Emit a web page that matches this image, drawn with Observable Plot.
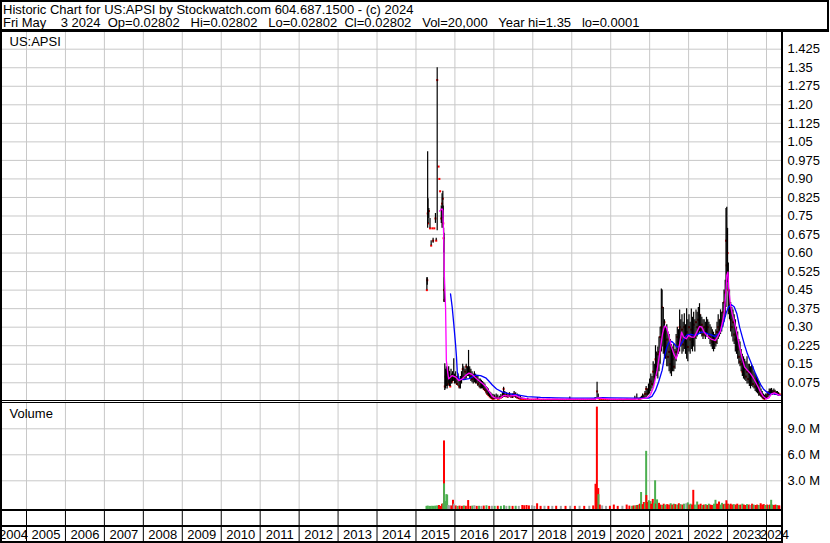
<!DOCTYPE html>
<html>
<head>
<meta charset="utf-8">
<script src="https://cdn.jsdelivr.net/npm/d3@7"></script>
<script src="https://cdn.jsdelivr.net/npm/@observablehq/plot@0.6"></script>
<style>
  html, body { margin: 0; padding: 0; background: #fff; }
  #chart { position: relative; width: 830px; height: 543px; overflow: hidden;
           font-family: "Liberation Sans", Arial, sans-serif; font-size: 13px; color: #000; }
  .abs { position: absolute; }
  .line { position: absolute; background: #000; }
  #title { position: absolute; left: 3px; top: 3px; white-space: pre; line-height: 13px; font-size: 13px; }
</style>
</head>
<body>
<div id="chart">
  <div id="title"></div>
  <div id="price" class="abs" style="left:0;top:32px;"></div>
  <div id="volume" class="abs" style="left:0;top:401px;"></div>
  <div id="years" class="abs" style="left:0;top:510px;"></div>
</div>
<script>
// ---------------- text ----------------
const titleLines = [
  "Historic Chart for US:APSI by Stockwatch.com 604.687.1500 - (c) 2024",
  "Fri May    3 2024  Op=0.02802   Hi=0.02802   Lo=0.02802  Cl=0.02802   Vol=20,000   Year hi=1.35   lo=0.0001"
];
const symbolLabel = "US:APSI";
const volumeLabel = "Volume";

// ---------------- tick labels ----------------
const years = [2004, 2005, 2006, 2007, 2008, 2009, 2010, 2011, 2012, 2013, 2014,
               2015, 2016, 2017, 2018, 2019, 2020, 2021, 2022, 2023, 2024];
const priceTicks = [0.075, 0.15, 0.225, 0.30, 0.375, 0.45, 0.525, 0.60, 0.675, 0.75,
                    0.825, 0.90, 0.975, 1.05, 1.125, 1.20, 1.275, 1.35, 1.425];
const priceTickLabels = ["0.075", "0.15", "0.225", "0.30", "0.375", "0.45", "0.525", "0.60", "0.675", "0.75",
                         "0.825", "0.90", "0.975", "1.05", "1.125", "1.20", "1.275", "1.35", "1.425"];
const volumeTicks = [3, 6, 9];
const volumeTickLabels = ["3.0 M", "6.0 M", "9.0 M"];

// ---------------- price bars: [year, high, low, close] ----------------
const priceBars2015 = [
  [2015.28,0.50,0.45,0.45],[2015.29,0.50,0.47,0.49],[2015.30,1.01,0.70,0.76],[2015.31,0.82,0.72,0.72],
  [2015.33,0.78,0.74,0.77],[2015.36,0.74,0.70,0.70],[2015.39,0.65,0.63,0.63],[2015.42,0.70,0.70,0.70],
  [2015.44,0.66,0.64,0.65],[2015.47,0.70,0.70,0.70],[2015.50,0.76,0.72,0.74],[2015.52,0.66,0.65,0.65],
  [2015.545,1.35,0.69,1.30],[2015.58,0.95,0.95,0.95],[2015.60,0.90,0.90,0.90],[2015.62,0.85,0.85,0.85],
  [2015.65,0.79,0.72,0.74],[2015.67,0.84,0.70,0.80],[2015.69,0.85,0.74,0.82],[2015.70,0.79,0.70,0.72],
  [2015.71,0.70,0.60,0.66],[2015.72,0.68,0.40,0.45],[2015.73,0.50,0.40,0.41]
];
const priceBars2016 = [
  [2015.74,0.152,0.044,0.06],[2015.76,0.13,0.05,0.10],[2015.78,0.14,0.06,0.08],[2015.80,0.125,0.05,0.11],
  [2015.82,0.11,0.06,0.07],[2015.84,0.14,0.07,0.12],[2015.86,0.12,0.06,0.09],[2015.88,0.10,0.06,0.06],
  [2015.90,0.13,0.07,0.10],[2015.92,0.11,0.07,0.08],[2015.94,0.12,0.08,0.09],[2015.97,0.172,0.08,0.10],
  [2015.99,0.11,0.07,0.09],[2016.02,0.12,0.07,0.08],[2016.05,0.10,0.065,0.07],[2016.08,0.11,0.06,0.10],
  [2016.11,0.09,0.05,0.06],[2016.14,0.10,0.05,0.08],[2016.17,0.12,0.07,0.09],[2016.20,0.15,0.085,0.13],
  [2016.23,0.14,0.09,0.10],[2016.26,0.13,0.085,0.12],[2016.29,0.15,0.09,0.14],[2016.32,0.14,0.10,0.11],
  [2016.35,0.206,0.10,0.13],[2016.38,0.14,0.09,0.12],[2016.41,0.13,0.08,0.10],[2016.44,0.12,0.075,0.09],
  [2016.47,0.11,0.07,0.10],[2016.50,0.12,0.075,0.09],[2016.53,0.11,0.07,0.08],[2016.56,0.10,0.07,0.09],
  [2016.59,0.10,0.06,0.07],[2016.62,0.09,0.055,0.08],[2016.65,0.09,0.05,0.06],[2016.68,0.085,0.05,0.07],
  [2016.71,0.08,0.05,0.06],[2016.74,0.075,0.045,0.05],[2016.77,0.07,0.04,0.045],[2016.80,0.06,0.03,0.04],
  [2016.83,0.055,0.025,0.03],[2016.86,0.05,0.02,0.025],[2016.89,0.04,0.015,0.02],[2016.92,0.035,0.012,0.015],
  [2016.95,0.03,0.008,0.012],[2016.98,0.028,0.006,0.01],[2017.02,0.025,0.006,0.012],[2017.06,0.03,0.008,0.015],
  [2017.10,0.025,0.008,0.01],[2017.14,0.02,0.006,0.012],[2017.18,0.028,0.01,0.015],[2017.22,0.035,0.012,0.02],
  [2017.25,0.057,0.015,0.05],[2017.28,0.04,0.015,0.025],[2017.32,0.035,0.015,0.02],[2017.36,0.03,0.012,0.02],
  [2017.40,0.035,0.015,0.025],[2017.44,0.03,0.012,0.02],[2017.48,0.03,0.012,0.018],[2017.52,0.04,0.015,0.03],
  [2017.56,0.035,0.012,0.02],[2017.60,0.03,0.01,0.015],[2017.64,0.025,0.008,0.012],[2017.68,0.02,0.006,0.01]
];
const priceBarsFlat = [
  [2017.72,0.014,0.008,0.008],[2017.77,0.012,0.007,0.007],[2017.82,0.006,0.006,0.006],[2017.87,0.012,0.007,0.007],
  [2017.92,0.006,0.006,0.006],[2017.97,0.006,0.006,0.006],[2018.02,0.006,0.006,0.006],[2018.07,0.007,0.007,0.007],
  [2018.12,0.015,0.008,0.008],[2018.17,0.006,0.006,0.006],[2018.22,0.005,0.005,0.005],[2018.27,0.006,0.006,0.006],
  [2018.32,0.005,0.005,0.005],[2018.37,0.006,0.006,0.006],[2018.42,0.006,0.006,0.006],[2018.47,0.005,0.005,0.005],
  [2018.52,0.006,0.006,0.006],[2018.57,0.006,0.006,0.006],[2018.62,0.006,0.006,0.006],[2018.67,0.005,0.005,0.005],
  [2018.72,0.006,0.006,0.006],[2018.77,0.006,0.006,0.006],[2018.82,0.005,0.005,0.005],[2018.87,0.006,0.006,0.006],
  [2018.92,0.006,0.006,0.006],[2018.95,0.017,0.007,0.007],[2019.00,0.006,0.006,0.006],[2019.05,0.005,0.005,0.005],
  [2019.10,0.006,0.006,0.006],[2019.15,0.006,0.006,0.006],[2019.20,0.005,0.005,0.005],[2019.25,0.006,0.006,0.006],
  [2019.30,0.006,0.006,0.006],[2019.35,0.005,0.005,0.005],[2019.40,0.006,0.006,0.006],[2019.45,0.006,0.006,0.006],
  [2019.50,0.006,0.006,0.006],[2019.55,0.007,0.007,0.007],[2019.60,0.015,0.008,0.008],[2019.65,0.077,0.008,0.040],
  [2019.68,0.030,0.010,0.012],[2019.72,0.015,0.008,0.008],[2019.77,0.007,0.007,0.007],[2019.82,0.006,0.006,0.006],
  [2019.87,0.006,0.006,0.006],[2019.92,0.005,0.005,0.005],[2019.97,0.006,0.006,0.006],[2020.02,0.006,0.006,0.006],
  [2020.07,0.006,0.006,0.006],[2020.12,0.006,0.006,0.006],[2020.17,0.005,0.005,0.005],[2020.22,0.006,0.006,0.006],
  [2020.27,0.006,0.006,0.006],[2020.32,0.005,0.005,0.005],[2020.37,0.006,0.006,0.006],[2020.42,0.007,0.007,0.007],
  [2020.47,0.006,0.006,0.006],[2020.52,0.006,0.006,0.006],[2020.57,0.006,0.006,0.006],[2020.62,0.020,0.010,0.010],
  [2020.67,0.030,0.012,0.012]
];
const priceBars2021 = [
  [2020.72,0.012,0.006,0.006],[2020.76,0.015,0.008,0.01],[2020.79,0.02,0.008,0.015],[2020.82,0.03,0.01,0.02],
  [2020.85,0.025,0.01,0.015],[2020.88,0.04,0.012,0.03],[2020.91,0.06,0.015,0.05],[2020.94,0.05,0.02,0.03],
  [2020.97,0.07,0.025,0.05],[2021.00,0.09,0.03,0.06],[2021.03,0.11,0.04,0.08],[2021.06,0.10,0.05,0.07],
  [2021.09,0.16,0.06,0.12],[2021.12,0.15,0.07,0.10],[2021.15,0.225,0.09,0.17],[2021.18,0.20,0.10,0.14],
  [2021.21,0.22,0.09,0.19],[2021.24,0.26,0.12,0.20],[2021.27,0.30,0.15,0.26],[2021.30,0.455,0.20,0.30],
  [2021.32,0.45,0.22,0.38],[2021.35,0.38,0.19,0.28],[2021.38,0.33,0.18,0.32],[2021.41,0.30,0.17,0.22],
  [2021.44,0.31,0.14,0.25],[2021.47,0.28,0.14,0.18],[2021.50,0.27,0.12,0.20],[2021.53,0.25,0.11,0.15],
  [2021.56,0.23,0.10,0.13],[2021.59,0.22,0.12,0.17],[2021.62,0.23,0.12,0.14],[2021.65,0.21,0.13,0.18],
  [2021.68,0.27,0.16,0.20],[2021.71,0.30,0.18,0.26],[2021.74,0.29,0.19,0.24],[2021.77,0.37,0.20,0.30],
  [2021.80,0.33,0.22,0.25],[2021.83,0.35,0.19,0.29],[2021.86,0.32,0.20,0.23],[2021.89,0.354,0.21,0.30],
  [2021.92,0.31,0.19,0.24],[2021.95,0.375,0.17,0.28],[2021.98,0.33,0.16,0.22],[2022.01,0.35,0.20,0.30],
  [2022.04,0.32,0.19,0.25],[2022.07,0.374,0.21,0.29],[2022.10,0.34,0.20,0.24],[2022.13,0.36,0.22,0.31],
  [2022.16,0.33,0.20,0.26],[2022.19,0.37,0.25,0.32],[2022.22,0.36,0.26,0.30],[2022.25,0.38,0.27,0.33],
  [2022.28,0.395,0.28,0.35],[2022.31,0.35,0.27,0.29],[2022.34,0.34,0.26,0.31],[2022.37,0.33,0.25,0.27],
  [2022.40,0.33,0.26,0.30],[2022.43,0.32,0.25,0.28],[2022.46,0.34,0.26,0.29],[2022.49,0.33,0.27,0.30],
  [2022.52,0.32,0.25,0.27],[2022.55,0.31,0.23,0.26],[2022.58,0.30,0.22,0.25],[2022.61,0.29,0.21,0.24],
  [2022.64,0.28,0.20,0.23],[2022.67,0.27,0.21,0.25],[2022.70,0.29,0.22,0.24],[2022.73,0.32,0.23,0.28],
  [2022.76,0.35,0.25,0.30],[2022.79,0.33,0.26,0.29],[2022.82,0.37,0.27,0.33],[2022.85,0.36,0.28,0.31],
  [2022.88,0.40,0.30,0.36],[2022.91,0.45,0.32,0.40],[2022.94,0.49,0.34,0.44],[2022.96,0.78,0.38,0.65],
  [2022.98,0.785,0.45,0.55],[2023.00,0.70,0.48,0.60],[2023.02,0.56,0.35,0.45],[2023.05,0.45,0.33,0.38],
  [2023.08,0.40,0.28,0.33],[2023.11,0.38,0.26,0.30],[2023.14,0.37,0.24,0.32],[2023.17,0.35,0.23,0.27],
  [2023.20,0.33,0.20,0.25],[2023.23,0.30,0.19,0.22],[2023.26,0.28,0.17,0.21],[2023.29,0.25,0.15,0.18],
  [2023.32,0.24,0.14,0.16],[2023.35,0.21,0.12,0.15],[2023.38,0.19,0.10,0.12],[2023.41,0.18,0.09,0.11],
  [2023.44,0.17,0.085,0.13],[2023.47,0.16,0.08,0.10],[2023.50,0.18,0.07,0.12],[2023.53,0.15,0.07,0.09],
  [2023.56,0.15,0.06,0.11],[2023.59,0.14,0.05,0.08],[2023.62,0.145,0.06,0.10],[2023.65,0.14,0.055,0.07],
  [2023.68,0.12,0.05,0.09],[2023.71,0.11,0.04,0.06],[2023.74,0.10,0.035,0.07],[2023.77,0.09,0.03,0.05],
  [2023.80,0.08,0.02,0.04],[2023.83,0.07,0.02,0.03],[2023.86,0.05,0.015,0.025],[2023.89,0.04,0.01,0.02],
  [2023.92,0.03,0.008,0.012],[2023.95,0.025,0.006,0.01],[2023.98,0.03,0.008,0.015],[2024.01,0.03,0.01,0.02],
  [2024.04,0.04,0.015,0.03],[2024.07,0.05,0.02,0.035],[2024.10,0.05,0.025,0.04],[2024.13,0.052,0.025,0.03],
  [2024.16,0.045,0.025,0.035],[2024.19,0.05,0.03,0.04],[2024.22,0.045,0.025,0.03],[2024.25,0.04,0.025,0.035],
  [2024.28,0.04,0.022,0.03],[2024.31,0.035,0.02,0.028],[2024.34,0.028,0.028,0.028]
];

// ---------------- moving averages: [year, value] ----------------
const magentaAvg2015 = [
  [2015.61,0.770],[2015.67,0.779],[2015.69,0.772],[2015.71,0.678],[2015.73,0.503],[2015.76,0.381],
  [2015.78,0.165],[2015.82,0.111],[2015.84,0.091],[2015.93,0.104],[2016.02,0.098],[2016.10,0.084],
  [2016.19,0.091],[2016.27,0.104],[2016.36,0.114],[2016.44,0.109],[2016.53,0.095],[2016.61,0.084],
  [2016.70,0.073],[2016.79,0.060],[2016.87,0.041],[2016.96,0.020],[2017.04,0.013],[2017.17,0.013],
  [2017.26,0.024],[2017.38,0.021],[2017.56,0.024],[2017.68,0.014],[2017.86,0.010],[2018.50,0.009],
  [2019.00,0.009],[2019.60,0.009],[2019.68,0.014],[2019.78,0.012],[2020.00,0.009],[2020.60,0.009]
];
const magentaAvg2021 = [
  [2020.76,0.010],[2020.93,0.014],[2021.02,0.026],[2021.10,0.057],[2021.19,0.125],[2021.27,0.206],
  [2021.33,0.273],[2021.38,0.304],[2021.43,0.300],[2021.49,0.267],[2021.55,0.226],[2021.62,0.192],
  [2021.68,0.172],[2021.72,0.192],[2021.77,0.233],[2021.82,0.280],[2021.87,0.260],[2021.94,0.253],
  [2022.00,0.267],[2022.07,0.260],[2022.15,0.260],[2022.21,0.280],[2022.28,0.303],[2022.34,0.300],
  [2022.40,0.280],[2022.49,0.262],[2022.57,0.253],[2022.68,0.246],[2022.74,0.260],[2022.81,0.280],
  [2022.88,0.327],[2022.92,0.367],[2022.96,0.448],[2022.98,0.509],[2023.01,0.523],[2023.03,0.462],
  [2023.07,0.394],[2023.12,0.354],[2023.18,0.320],[2023.24,0.273],[2023.31,0.219],[2023.38,0.172],
  [2023.44,0.138],[2023.51,0.125],[2023.58,0.114],[2023.65,0.098],[2023.72,0.078],[2023.79,0.057],
  [2023.85,0.037],[2023.92,0.019],[2023.99,0.010],[2024.06,0.014],[2024.13,0.030],[2024.20,0.034],
  [2024.26,0.030],[2024.33,0.024]
];
const blueAvg2015 = [
  [2015.887,0.435],[2015.93,0.381],[2015.97,0.314],[2016.015,0.233],[2016.04,0.180],[2016.06,0.120],
  [2016.10,0.090],[2016.23,0.088],[2016.36,0.092],[2016.44,0.098],[2016.53,0.106],[2016.66,0.104],
  [2016.79,0.095],[2016.87,0.082],[2016.96,0.066],[2017.07,0.050],[2017.21,0.038],[2017.38,0.031],
  [2017.60,0.026],[2017.86,0.019],[2018.20,0.016],[2018.60,0.014],[2019.00,0.013],[2019.60,0.013],
  [2019.75,0.015],[2020.00,0.014],[2020.60,0.013]
];
const blueAvg2021 = [
  [2020.76,0.013],[2020.97,0.013],[2021.06,0.020],[2021.15,0.044],[2021.23,0.078],[2021.32,0.125],
  [2021.38,0.179],[2021.44,0.219],[2021.50,0.240],[2021.57,0.242],[2021.63,0.233],[2021.70,0.219],
  [2021.77,0.222],[2021.84,0.240],[2021.91,0.260],[2021.97,0.270],[2022.06,0.271],[2022.15,0.267],
  [2022.23,0.271],[2022.32,0.280],[2022.40,0.280],[2022.49,0.273],[2022.57,0.270],[2022.68,0.262],
  [2022.76,0.271],[2022.83,0.287],[2022.90,0.320],[2022.97,0.360],[2023.03,0.383],[2023.10,0.391],
  [2023.17,0.383],[2023.24,0.354],[2023.31,0.300],[2023.38,0.260],[2023.44,0.226],[2023.51,0.192],
  [2023.58,0.165],[2023.65,0.138],[2023.72,0.111],[2023.79,0.087],[2023.85,0.068],[2023.92,0.050],
  [2024.01,0.037],[2024.09,0.030],[2024.18,0.030],[2024.26,0.028],[2024.35,0.024]
];

// ---------------- volume: [year, millions, direction] ----------------
const volume2015 = [
  [2015.27,0.05,"up"],[2015.30,0.08,"up"],[2015.34,0.05,"up"],[2015.38,0.05,"up"],[2015.42,0.06,"up"],
  [2015.46,0.05,"up"],[2015.50,0.08,"up"],[2015.545,0.10,"up"],[2015.59,0.15,"down"],[2015.63,0.05,"down"],
  [2015.67,0.30,"down"],[2015.70,0.35,"up"],[2015.72,7.6,"down"],[2015.721,2.65,"up"],[2015.75,0.6,"up"],
  [2015.78,1.4,"up"],[2015.80,1.35,"up"],[2015.83,0.15,"flat"],[2015.87,0.10,"flat"],[2015.91,0.10,"down"],
  [2015.95,0.75,"down"],[2015.97,0.30,"flat"],[2016.02,0.10,"down"],[2016.07,0.05,"up"],[2016.12,0.08,"down"],
  [2016.18,0.05,"down"],[2016.23,0.10,"up"],[2016.28,0.06,"down"],[2016.34,0.72,"down"],[2016.40,0.05,"down"],
  [2016.45,0.08,"up"],[2016.50,0.12,"flat"],[2016.56,0.05,"down"],[2016.62,0.06,"up"],[2016.68,0.05,"flat"],
  [2016.74,0.08,"down"],[2016.81,0.12,"up"],[2016.88,0.05,"down"],[2016.95,0.06,"flat"]
];
const volume2017 = [
  [2017.02,0.05,"up"],[2017.10,0.06,"down"],[2017.18,0.05,"up"],[2017.26,0.12,"up"],[2017.32,0.05,"flat"],
  [2017.40,0.06,"up"],[2017.48,0.05,"down"],[2017.56,0.06,"up"],[2017.64,0.05,"flat"],[2017.73,0.15,"down"],
  [2017.78,0.12,"down"],[2017.84,0.15,"down"],[2017.90,0.10,"down"],[2017.98,0.12,"flat"],[2018.04,0.05,"flat"],
  [2018.11,0.35,"down"],[2018.20,0.05,"down"],[2018.30,0.06,"flat"],[2018.40,0.05,"down"],[2018.50,0.05,"flat"],
  [2018.60,0.06,"down"],[2018.72,0.05,"flat"],[2018.84,0.05,"down"],[2018.96,0.06,"flat"],[2019.08,0.05,"down"],
  [2019.20,0.06,"flat"],[2019.32,0.05,"down"],[2019.45,0.06,"flat"],[2019.55,0.10,"down"],[2019.61,2.6,"down"],
  [2019.645,11.5,"down"],[2019.68,2.1,"down"],[2019.685,1.4,"up"],[2019.72,0.20,"down"],[2019.78,0.10,"flat"],
  [2019.88,0.05,"flat"],[2019.98,0.06,"down"],[2020.08,0.20,"down"],[2020.18,0.05,"down"],[2020.30,0.06,"flat"],
  [2020.41,0.20,"down"],[2020.48,0.08,"down"],[2020.55,0.06,"up"],[2020.59,0.10,"down"],[2020.64,0.12,"up"],
  [2020.68,0.15,"down"]
];
const volume2021 = [
  [2020.72,0.20,"up"],[2020.75,0.30,"down"],[2020.78,1.65,"up"],[2020.82,0.25,"down"],[2020.85,0.50,"down"],
  [2020.88,0.40,"up"],[2020.91,6.4,"up"],[2020.915,1.3,"down"],[2020.94,0.50,"down"],[2020.98,0.70,"up"],
  [2021.02,0.60,"up"],[2021.04,0.30,"down"],[2021.08,0.85,"down"],[2021.11,0.40,"up"],[2021.14,3.0,"up"],
  [2021.17,0.30,"down"],[2021.19,0.80,"up"],[2021.22,0.20,"up"],[2021.24,0.40,"down"],[2021.28,0.20,"down"],
  [2021.32,0.15,"up"],[2021.36,0.30,"down"],[2021.40,0.20,"up"],[2021.45,0.25,"down"],[2021.50,0.20,"down"],
  [2021.54,0.35,"up"],[2021.58,0.20,"down"],[2021.62,0.30,"up"],[2021.66,0.25,"down"],[2021.71,0.20,"up"],
  [2021.75,0.35,"down"],[2021.79,0.25,"up"],[2021.84,0.20,"down"],[2021.88,0.30,"up"],[2021.94,0.35,"flat"],
  [2021.98,0.45,"up"],[2022.02,0.20,"down"],[2022.05,0.30,"up"],[2022.09,0.20,"down"],[2022.12,1.9,"down"],
  [2022.16,0.20,"up"],[2022.22,0.55,"up"],[2022.26,0.20,"down"],[2022.31,0.30,"down"],[2022.35,0.15,"up"],
  [2022.39,0.20,"down"],[2022.44,0.25,"up"],[2022.48,0.15,"down"],[2022.52,0.30,"up"],[2022.56,0.20,"down"],
  [2022.60,0.15,"down"],[2022.65,0.30,"up"],[2022.69,0.75,"up"],[2022.73,0.30,"down"],[2022.78,0.55,"down"],
  [2022.82,0.20,"up"],[2022.86,0.40,"up"],[2022.90,0.25,"down"],[2022.94,0.30,"up"],[2022.97,0.70,"down"],
  [2023.01,0.30,"down"],[2023.05,0.20,"up"],[2023.08,0.30,"down"],[2023.12,0.20,"down"],[2023.16,0.25,"up"],
  [2023.21,0.20,"down"],[2023.25,0.30,"down"],[2023.29,0.15,"up"],[2023.33,0.20,"down"],[2023.38,0.30,"up"],
  [2023.42,0.20,"down"],[2023.46,0.15,"down"],[2023.50,0.25,"up"],[2023.55,0.20,"down"],[2023.59,0.15,"flat"],
  [2023.63,0.30,"down"],[2023.67,0.20,"up"],[2023.72,0.15,"down"],[2023.76,0.20,"down"],[2023.80,0.15,"up"],
  [2023.85,0.35,"down"],[2023.89,0.20,"down"],[2023.93,0.25,"down"],[2023.97,0.15,"up"],[2024.02,0.20,"down"],
  [2024.06,0.15,"up"],[2024.09,0.20,"down"],[2024.12,0.75,"up"],[2024.15,0.20,"up"],[2024.19,0.15,"down"],
  [2024.23,0.20,"down"],[2024.27,0.15,"up"],[2024.31,0.10,"down"],[2024.33,0.10,"down"]
];

// ---------------- layout / style ----------------
const FONT = '"Liberation Sans", Arial, sans-serif';
const GRID = "#c8c8c8";
const X_SCALE = {domain: [2004.3324, 2024.411], range: [0, 782]};
const volumeColors = {down: "#ff0000", up: "#4caf50", flat: "#a0a0a0"};
const baseStyle = {fontFamily: FONT, fontSize: "13px", color: "#000", background: "transparent", overflow: "visible"};

document.getElementById("title").textContent = titleLines.join("\n");

const bars = [...priceBars2015, ...priceBars2016, ...priceBarsFlat, ...priceBars2021]
  .map(([year, high, low, close]) => ({year, high, low, close}));
const magenta = [...magentaAvg2015, ...magentaAvg2021].map(([year, value]) => ({year, value}));
const blue = [...blueAvg2015, ...blueAvg2021].map(([year, value]) => ({year, value}));
const volumes = [...volume2015, ...volume2017, ...volume2021].map(([year, vol, dir]) => ({year, vol, dir}));
const gridYears = years.filter(y => y > X_SCALE.domain[0]);

// ---------------- price panel ----------------
const pricePlot = Plot.plot({
  width: 830, height: 370,
  marginLeft: 0, marginRight: 48, marginTop: 0, marginBottom: 2,
  x: {...X_SCALE, axis: null},
  y: {domain: [0, 1.4926], range: [368.8, 0]},
  style: baseStyle,
  marks: [
    Plot.ruleY(priceTicks, {stroke: GRID}),
    Plot.ruleX(gridYears, {stroke: GRID}),
    Plot.dot(bars, {x: "year", y: "close", r: 1.15, symbol: "square", fill: "#ff0000"}),
    Plot.ruleX(bars, {x: "year", y1: "low", y2: "high", stroke: "#000", strokeWidth: 1.2}),
    Plot.line(blue, {x: "year", y: "value", stroke: "#0000ff", strokeWidth: 1.3}),
    Plot.line(magenta, {x: "year", y: "value", stroke: "#ff00ff", strokeWidth: 1.3}),
    Plot.axisY({anchor: "right", ticks: priceTicks, tickSize: 0, tickPadding: 5, label: null,
                tickFormat: d => priceTickLabels[priceTicks.indexOf(d)], fill: "#000"}),
    Plot.text([symbolLabel], {text: d => d, frameAnchor: "top-left", lineAnchor: "middle",
                              dx: 9, dy: 9, textAnchor: "start", fill: "#000"})
  ]
});
document.getElementById("price").appendChild(pricePlot);

// ---------------- volume panel ----------------
const volumePlot = Plot.plot({
  width: 830, height: 110,
  marginLeft: 0, marginRight: 48, marginTop: 1, marginBottom: 1,
  x: {...X_SCALE, axis: null},
  y: {domain: [0, 12], range: [105.3, 1.3]},
  style: baseStyle,
  marks: [
    Plot.ruleY(volumeTicks, {stroke: GRID}),
    Plot.ruleX(gridYears, {stroke: GRID}),
    Plot.ruleX(volumes, {x: "year", y1: -0.33, y2: "vol", stroke: d => volumeColors[d.dir], strokeWidth: 2}),
    Plot.axisY({anchor: "right", ticks: volumeTicks, tickSize: 0, tickPadding: 5, label: null,
                tickFormat: d => volumeTickLabels[volumeTicks.indexOf(d)], fill: "#000"}),
    Plot.text([volumeLabel], {text: d => d, frameAnchor: "top-left", lineAnchor: "middle",
                              dx: 9, dy: 11, textAnchor: "start", fill: "#000"})
  ]
});
document.getElementById("volume").appendChild(volumePlot);

// ---------------- year band ----------------
const [d0, d1] = X_SCALE.domain;
const yearLabels = years.map(y => ({year: y, mid: (Math.max(y, d0) + Math.min(y + 1, d1)) / 2}));
const yearPlot = Plot.plot({
  width: 830, height: 33,
  marginLeft: 0, marginRight: 48, marginTop: 0, marginBottom: 0,
  x: {...X_SCALE, axis: null},
  style: baseStyle,
  marks: [
    Plot.ruleX(gridYears, {stroke: "#000", strokeWidth: 1}),
    Plot.text(yearLabels, {x: "mid", text: d => String(d.year), frameAnchor: "top", lineAnchor: "middle",
                           dy: 24, fill: "#000"})
  ]
});
document.getElementById("years").appendChild(yearPlot);

// ---------------- borders ----------------
const chart = document.getElementById("chart");
const borderLines = [
  [0, 0, 829, 2],      // title top
  [0, 0, 2, 543],      // left
  [827, 0, 2, 31],     // title right
  [0, 29, 829, 3],     // title bottom
  [781, 31, 2, 512],   // plot right
  [0, 400, 782, 1],    // price bottom
  [0, 402, 782, 1],    // volume top
  [0, 509, 783, 2],    // volume bottom
  [0, 525, 783, 2],    // year band middle
  [0, 541, 783, 2]     // bottom
];
for (const [l, t, w, h] of borderLines) {
  const d = document.createElement("div");
  d.className = "line";
  d.style.left = l + "px"; d.style.top = t + "px"; d.style.width = w + "px"; d.style.height = h + "px";
  chart.appendChild(d);
}
</script>
</body>
</html>
